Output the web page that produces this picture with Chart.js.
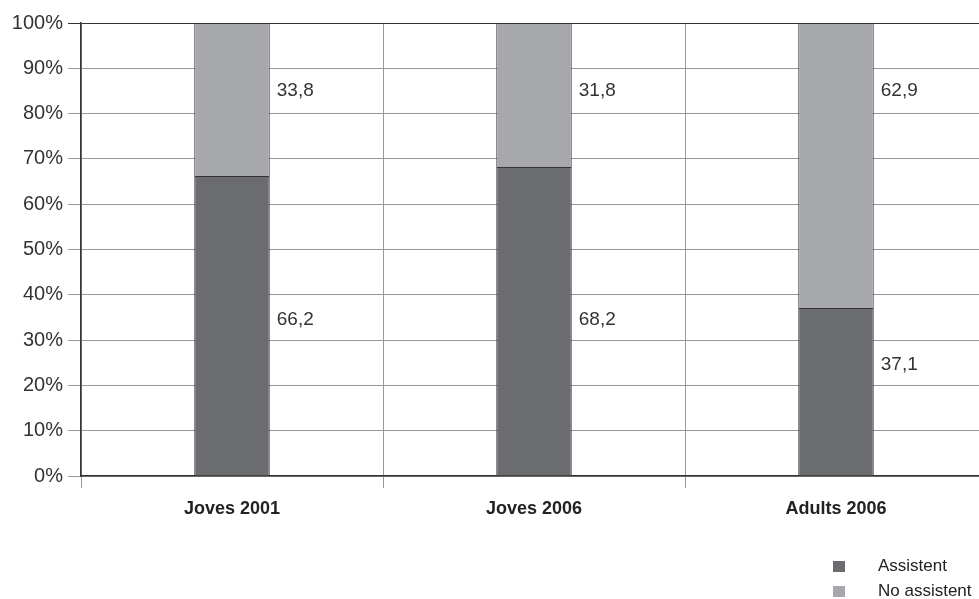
<!DOCTYPE html>
<html>
<head>
<meta charset="utf-8">
<script src="https://cdn.jsdelivr.net/npm/chart.js@4"></script>
<style>
  html, body { margin: 0; padding: 0; background: #fff; overflow: hidden; }
  #wrap { width: 990px; height: 599px; position: relative; }
</style>
</head>
<body>
<div id="wrap"><canvas id="myChart"></canvas></div>
<script>
const labels = ["Joves 2001", "Joves 2006", "Adults 2006"];
const assistent = [66.2, 68.2, 37.1];
const noAssistent = [33.8, 31.8, 62.9];
const yTicks = [0, 10, 20, 30, 40, 50, 60, 70, 80, 90, 100];

const FONT = "'Liberation Sans', Arial, sans-serif";

// value labels to the right of each bar segment
const valueLabels = {
    id: "valueLabels",
    afterDatasetsDraw(chart) {
        const ctx = chart.ctx;
        const y = chart.scales.y;
        ctx.save();
        ctx.font = "19px " + FONT;
        ctx.fillStyle = "#333";
        ctx.textBaseline = "middle";
        ctx.textAlign = "left";
        chart.data.datasets.forEach((ds, di) => {
            const meta = chart.getDatasetMeta(di);
            meta.data.forEach((bar, i) => {
                const v = ds.data[i];
                let pos;
                if (di === 0) pos = Math.min(34.5, v - 12.6);
                else pos = 85;
                const x = bar.x + bar.width / 2 + 7;
                ctx.fillText(String(v).replace(".", ","), x, y.getPixelForValue(pos));
            });
        });
        ctx.restore();
    }
};

// vertical legend at bottom right
const sideLegend = {
    id: "sideLegend",
    afterDraw(chart) {
        const ctx = chart.ctx;
        ctx.save();
        ctx.font = "17px " + FONT;
        ctx.textBaseline = "middle";
        chart.data.datasets.forEach((ds, i) => {
            const cy = 566 + i * 25;
            ctx.fillStyle = ds.backgroundColor;
            ctx.fillRect(833, cy - 5, 12, 11);
            ctx.fillStyle = "#222";
            ctx.fillText(ds.label, 878, cy);
        });
        ctx.restore();
    }
};

const data = {
    labels: labels,
    datasets: [
        {
            label: "Assistent",
            backgroundColor: "#6b6c70",
            borderColor: "#333",
            borderWidth: 1,
            data: assistent,
        },
        {
            label: "No assistent",
            backgroundColor: "#a7a8ab",
            borderColor: "#333",
            borderWidth: 1,
            data: noAssistent,
        },
    ],
};

const config = {
    type: "bar",
    data: data,
    options: {
        responsive: false,
        animation: false,
        layout: { padding: { top: 23, right: 3, left: 0, bottom: 0 } },
        datasets: { bar: { categoryPercentage: 1, barPercentage: 0.25 } },
        plugins: {
            legend: { display: false },
            tooltip: { enabled: false },
        },
        scales: {
            x: {
                stacked: true,
                afterFit: (s) => { s.height = 123; },
                grid: { color: "#999", lineWidth: 1, tickLength: 12, offset: true },
                border: { color: "#333", width: 1.5 },
                ticks: {
                    padding: 10,
                    color: "#222",
                    font: { family: FONT, size: 18, weight: "bold" },
                },
            },
            y: {
                stacked: true,
                min: 0,
                max: 100,
                afterFit: (s) => { s.width = 81; },
                afterBuildTicks: (s) => { s.ticks = yTicks.map((v) => ({ value: v })); },
                grid: {
                    color: (c) => (c.tick && c.tick.value === 100 ? "#333" : "#999"),
                    lineWidth: 1,
                    tickLength: 13,
                },
                border: { color: "#333", width: 1.5 },
                ticks: {
                    padding: 5,
                    color: "#333",
                    font: { family: FONT, size: 20 },
                    callback: (v) => v + "%",
                },
            },
        },
    },
    plugins: [valueLabels, sideLegend],
};

const canvas = document.getElementById("myChart");
canvas.width = 990;
canvas.height = 599;
const myChart = new Chart(canvas, config);
</script>
</body>
</html>
